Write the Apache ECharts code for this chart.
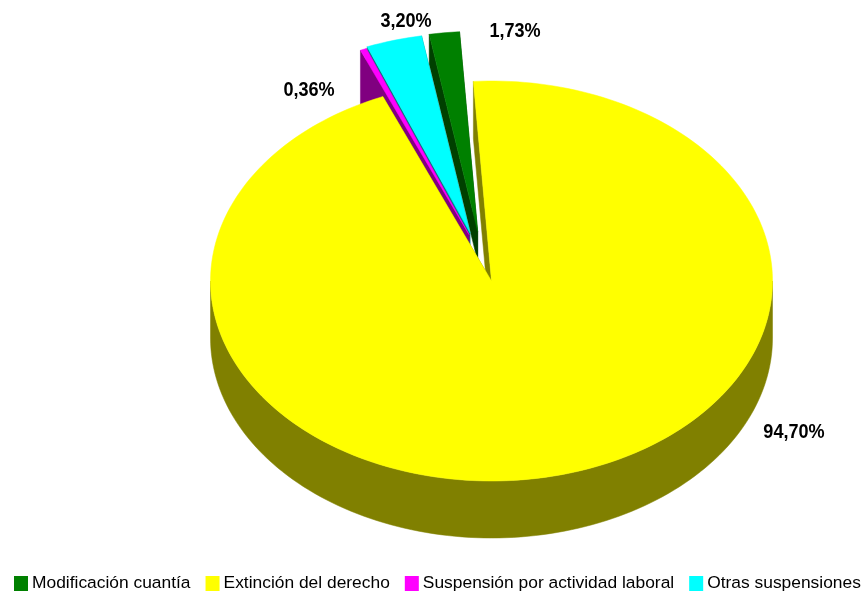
<!DOCTYPE html>
<html>
<head>
<meta charset="utf-8">
<style>html,body{margin:0;padding:0;background:#fff}#c{width:868px;height:595px}</style>
<script src="https://cdn.jsdelivr.net/npm/echarts@6/dist/echarts.min.js"></script>
</head>
<body>
<div id="c"></div>
<script>
var categories = ['Modificación cuantía', 'Extinción del derecho', 'Suspensión por actividad laboral', 'Otras suspensiones'];
var values = [1.73, 94.70, 0.36, 3.20];

// layout and styling, separate from the data
var topColors = ['#008000', '#ffff00', '#ff00ff', '#00ffff'];
var sideColors = ['#004000', '#808000', '#800080', '#008080'];
var labelPos = [[515, 31], [794, 432], [309, 90], [406, 21]];
var clockwiseOrder = [1, 2, 3, 0];
var exploded = [0.25, 0, 0.25, 0.25];
var nudgeX = [-5.5, 0, 4, -2.5];
var depths = [30, 57, 57, 57];
var drawZ = [2, 5, 4, 3];
var firstAngle = -3.7, CX = 491.5, CY = 281, RX = 281, RY = 200;
var FONT = '"Liberation Sans",Arial,sans-serif';

var total = values.reduce(function (a, b) { return a + b; }, 0);
var spans = [], cursor = firstAngle;
clockwiseOrder.forEach(function (i) {
  var sweep = values[i] / total * 360;
  spans[i] = [cursor, cursor + sweep];
  cursor += sweep;
});
function pt(deg, r, ox, oy, dy) {
  var a = deg * Math.PI / 180;
  return [CX + ox + r * RX * Math.sin(a), CY + oy - r * RY * Math.cos(a) + (dy || 0)];
}
function renderSlice(i) {
  return function (params, api) {
    var v = api.value(0);
    var s = spans[i], mid = (s[0] + s[1]) / 2, e = exploded[i], DEPTH = depths[i];
    var p0 = pt(mid, e, 0, 0);
    var ox = p0[0] - CX + nudgeX[i], oy = p0[1] - CY;
    var apex = [CX + ox, CY + oy];
    var apexD = [apex[0], apex[1] + DEPTH];
    var a = pt(s[0], 1, ox, oy), aD = pt(s[0], 1, ox, oy, DEPTH);
    var b = pt(s[1], 1, ox, oy), bD = pt(s[1], 1, ox, oy, DEPTH);
    var kids = [];
    function poly(points, fill) {
      kids.push({ type: 'polygon', shape: { points: points }, style: { fill: fill, stroke: fill, lineWidth: 0.5 }, silent: true });
    }
    // radial faces
    poly([apex, a, aD, apexD], sideColors[i]);
    poly([apex, b, bD, apexD], sideColors[i]);
    // outer wall (front half only)
    var lo = Math.max(s[0], 90), hi = Math.min(s[1], 270);
    if (hi > lo) {
      var wall = [], back = [];
      for (var d = lo; d <= hi; d += 1.5) {
        wall.push(pt(d, 1, ox, oy));
        back.unshift(pt(d, 1, ox, oy, DEPTH));
      }
      poly(wall.concat(back), sideColors[i]);
    }
    // top surface
    var topFace = [apex];
    for (var t = s[0]; t < s[1]; t += 1.5) topFace.push(pt(t, 1, ox, oy));
    topFace.push(b);
    poly(topFace, topColors[i]);
    kids.push({
      type: 'text', silent: true,
      x: labelPos[i][0], y: labelPos[i][1], scaleX: 0.86,
      style: {
        x: 0, y: 0,
        text: v.toFixed(2).replace('.', ',') + '%',
        align: 'center', verticalAlign: 'middle',
        fill: '#000', font: 'bold 21px ' + FONT
      }
    });
    return { type: 'group', children: kids };
  };
}
var chart = echarts.init(document.getElementById('c'), null, { renderer: 'canvas' });
chart.setOption({
  animation: false,
  backgroundColor: '#fff',
  legend: {
    data: categories,
    left: 9, top: 570, width: 859, padding: 5,
    itemWidth: 14, itemHeight: 15, itemGap: 15,
    icon: 'rect',
    selectedMode: false,
    textStyle: { fontFamily: FONT, fontSize: 17.4, color: '#000', padding: [0, 0, 0, -1] }
  },
  series: categories.map(function (name, i) {
    return {
      type: 'custom', name: name, coordinateSystem: 'none', z: drawZ[i],
      itemStyle: { color: topColors[i] },
      renderItem: renderSlice(i),
      data: [[values[i]]]
    };
  })
});
</script>
</body>
</html>
